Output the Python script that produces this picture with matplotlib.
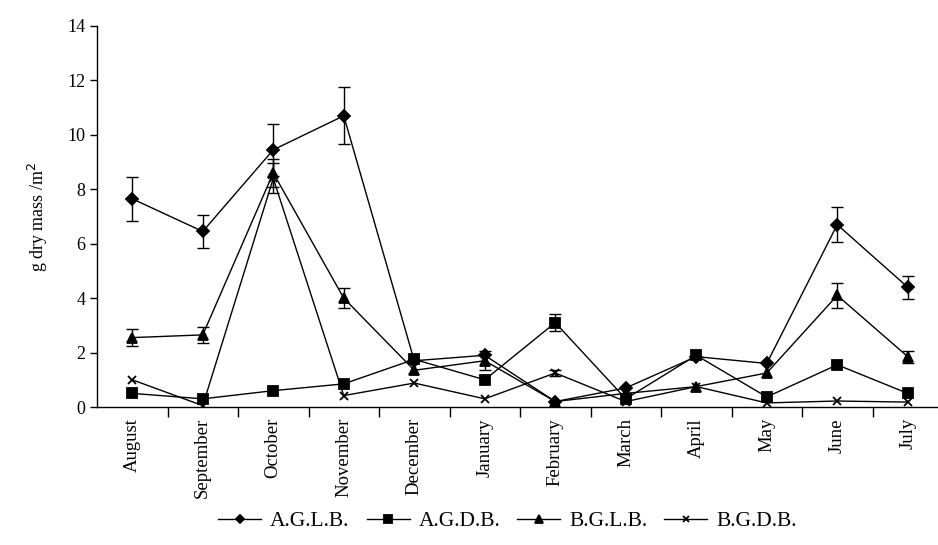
import matplotlib
matplotlib.use("Agg")
import matplotlib.pyplot as plt

plt.rcParams['font.family'] = ['Liberation Serif', 'DejaVu Serif']

months = ['August', 'September', 'October', 'November', 'December', 'January',
          'February', 'March', 'April', 'May', 'June', 'July']

aglb = [7.65, 6.45, 9.45, 10.7, 1.7, 1.9, 0.2, 0.7, 1.85, 1.6, 6.7, 4.4]
aglb_err = [0.8, 0.6, 0.95, 1.05, 0, 0, 0, 0, 0, 0, 0.65, 0.42]

agdb = [0.5, 0.3, 0.6, 0.85, 1.75, 1.0, 3.1, 0.3, 1.9, 0.37, 1.55, 0.5]
agdb_err = [0, 0, 0, 0, 0, 0, 0.3, 0, 0, 0, 0, 0]

bglb = [2.55, 2.65, 8.6, 4.0, 1.35, 1.7, 0.2, 0.5, 0.75, 1.25, 4.1, 1.85]
bglb_err = [0.3, 0.28, 0.5, 0.37, 0, 0.35, 0, 0, 0, 0, 0.45, 0.22]

bgdb = [1.0, 0.05, 8.4, 0.42, 0.88, 0.3, 1.25, 0.2, 0.75, 0.15, 0.22, 0.18]
bgdb_err = [0, 0, 0.55, 0, 0, 0, 0.12, 0, 0, 0, 0, 0]

series = [
    ('A.G.L.B.', aglb, aglb_err, 'D', 6),
    ('A.G.D.B.', agdb, agdb_err, 's', 7),
    ('B.G.L.B.', bglb, bglb_err, '^', 7.5),
    ('B.G.D.B.', bgdb, bgdb_err, 'x', 6),
]

fig = plt.figure(figsize=(9.38, 5.45), dpi=100)
ax = fig.add_axes([97 / 938, 138 / 545, 846 / 938, 381 / 545])

x = list(range(len(months)))
handles = []
for name, vals, err, mk, ms in series:
    line, = ax.plot(x, vals, color='black', lw=1.0, marker=mk,
                    markersize=ms, mew=1.3, label=name)
    handles.append(line)
    # only the points that carry a visible spread get a bar
    idx = [i for i in x if err[i] > 0]
    ax.errorbar([x[i] for i in idx], [vals[i] for i in idx],
                yerr=[err[i] for i in idx], fmt='none', ecolor='black',
                elinewidth=1.0, capsize=4, capthick=1.0)

ax.set_xlim(-0.5, 11.5)
ax.set_ylim(0, 14)
ax.set_yticks(range(0, 15, 2))
ax.tick_params(axis='y', labelsize=13, direction='out', length=5, width=1)

# month labels centred on the points, ticks on the category boundaries
ax.set_xticks(x)
ax.set_xticklabels(months, rotation=90, fontsize=13.5)
ax.tick_params(axis='x', which='major', length=0, pad=8)
ax.set_xticks([i - 0.5 for i in range(1, 13)], minor=True)
ax.tick_params(axis='x', which='minor', length=7, width=1, direction='out')

for side in ['top', 'right']:
    ax.spines[side].set_visible(False)
for side in ['left', 'bottom']:
    ax.spines[side].set_linewidth(1.0)

ax.set_ylabel('g dry mass /m$^2$', fontsize=13, labelpad=12)

fig.legend(handles=handles, loc='center', bbox_to_anchor=(0.541, 0.044),
           ncol=4, frameon=False, fontsize=15.5, handlelength=2.0,
           columnspacing=0.8, handletextpad=0.4, markerscale=0.75)

fig.savefig('out.png', dpi=100)
